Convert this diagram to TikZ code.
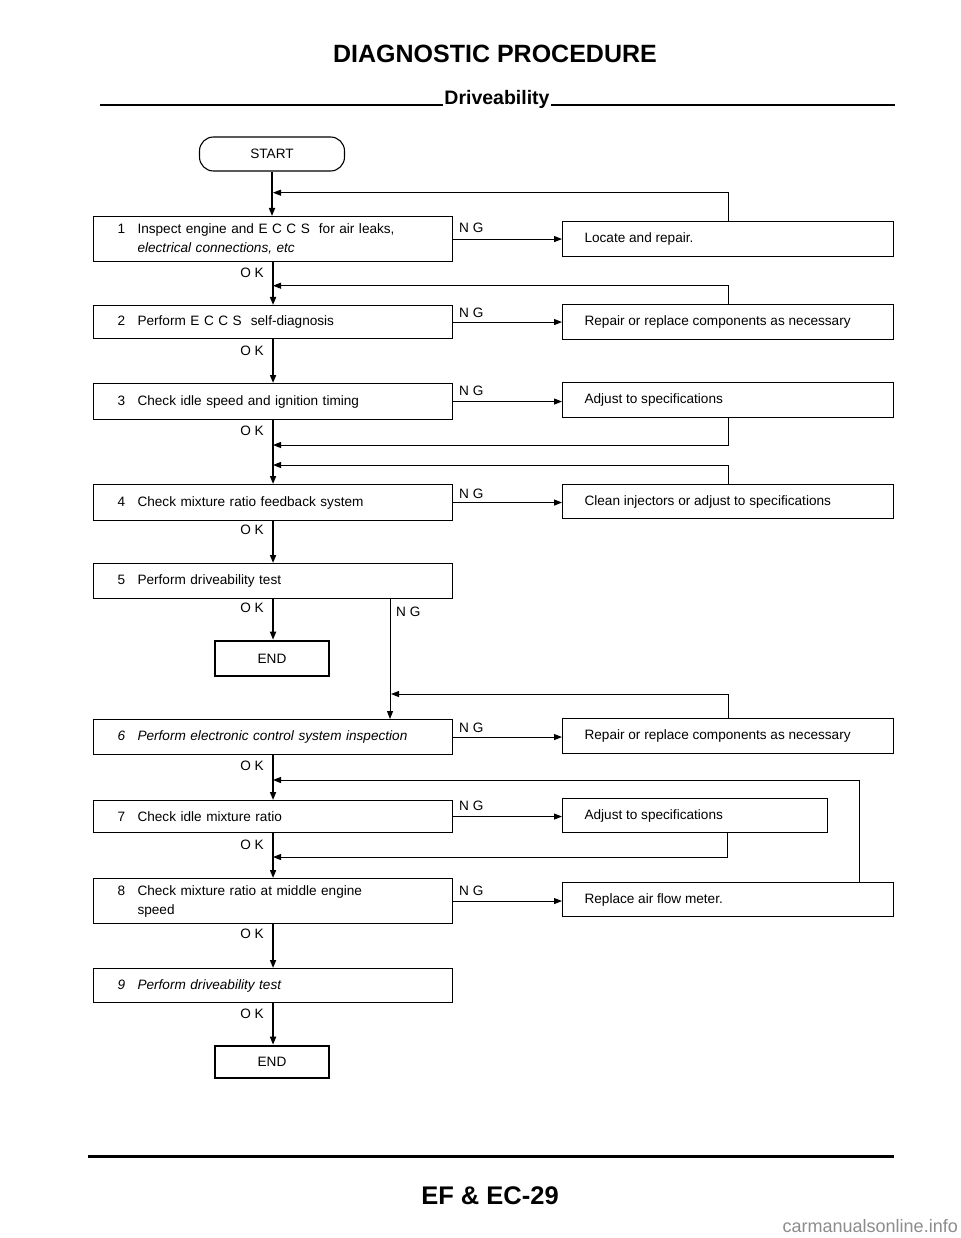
\documentclass[tikz,border=0pt]{standalone}
\usepackage{fontspec}
\setmainfont{Liberation Sans}
\usetikzlibrary{arrows.meta}
\newcommand\bxf{\fontsize{13.6}{19}\selectfont}
\tikzset{
  mainbox/.style={draw, line width=1.1pt, anchor=north west, inner xsep=24pt, inner ysep=0pt,
    text width=311pt, minimum height=#1, align=left, font=\bxf},
  rbox/.style={draw, line width=1.1pt, anchor=north west, inner xsep=22pt, inner ysep=0pt,
    minimum height=#1, align=left, font=\bxf},
  endbox/.style={draw, line width=2.6pt, minimum width=114pt, minimum height=#1, inner sep=0pt, font=\bxf},
  lbl/.style={inner sep=0pt, font=\bxf},
  arr/.style={line width=1pt, -{Triangle[length=8pt,width=6pt]}},
  mainarr/.style={line width=1.6pt, -{Triangle[length=8pt,width=6pt]}},
}
\newcommand\num[1]{\makebox[20pt][l]{#1}}
\begin{document}
\begin{tikzpicture}[x=1pt,y=-1pt]
\useasboundingbox[fill=white] (0,0) rectangle (960,1238);

% header
\node[font=\bfseries\fontsize{25}{30}\selectfont, anchor=base] (title) at (495,63) {DIAGNOSTIC PROCEDURE};
\node[font=\bfseries\fontsize{19.5}{24}\selectfont, anchor=base, inner sep=1pt] (drv) at (497,105) {Driveability};
\draw[line width=1.8pt] (100,105) -- (drv.base west);
\draw[line width=1.8pt] (drv.base east) -- (895,105);

% start
\node[draw, line width=1.1pt, rounded corners=14pt, minimum width=145pt, minimum height=34pt, inner sep=0pt, font=\bxf] (start) at (272,154) {START};

% main boxes
\node[mainbox=45pt] (b1) at (93,216) {\num{1}Inspect engine and E C C S\ \ for air leaks,\\\hspace*{20pt}\textit{electrical connections, etc}};
\node[mainbox=33pt] (b2) at (93,305) {\num{2}Perform E C C S\ \ self-diagnosis};
\node[mainbox=36pt] (b3) at (93,383) {\num{3}Check idle speed and ignition timing};
\node[mainbox=36pt] (b4) at (93,484) {\num{4}Check mixture ratio feedback system};
\node[mainbox=35pt] (b5) at (93,563) {\num{5}Perform driveability test};
\node[mainbox=35pt] (b6) at (93,719) {\itshape\num{6}Perform electronic control system inspection};
\node[mainbox=32pt] (b7) at (93,800) {\num{7}Check idle mixture ratio};
\node[mainbox=45pt] (b8) at (93,878) {\num{8}Check mixture ratio at middle engine\\\hspace*{20pt}speed};
\node[mainbox=34pt] (b9) at (93,968) {\itshape\num{9}Perform driveability test};

% end boxes
\node[endbox=35pt] (e1) at (272,658.5) {END};
\node[endbox=32pt] (e2) at (272,1062) {END};

% right boxes
\node[rbox=35pt] (r1) at (562,221) {\makebox[287pt][l]{Locate and repair.}};
\node[rbox=35pt] (r2) at (562,304) {\makebox[287pt][l]{Repair or replace components as necessary}};
\node[rbox=35pt] (r3) at (562,382) {\makebox[287pt][l]{Adjust to specifications}};
\node[rbox=34pt] (r4) at (562,484) {\makebox[287pt][l]{Clean injectors or adjust to specifications}};
\node[rbox=35pt] (r6) at (562,718) {\makebox[287pt][l]{Repair or replace components as necessary}};
\node[rbox=34pt] (r7) at (562,798) {\makebox[221pt][l]{Adjust to specifications}};
\node[rbox=34pt] (r8) at (562,882) {\makebox[287pt][l]{Replace air flow meter.}};

% main flow
\draw[mainarr] (start.south) -- (start.south |- b1.north);
\draw[mainarr] (b1.south) -- (b1.south |- b2.north);
\draw[mainarr] (b2.south) -- (b2.south |- b3.north);
\draw[mainarr] (b3.south) -- (b3.south |- b4.north);
\draw[mainarr] (b4.south) -- (b4.south |- b5.north);
\draw[mainarr] (b5.south) -- (b5.south |- e1.north);
\draw[mainarr] (b6.south) -- (b6.south |- b7.north);
\draw[mainarr] (b7.south) -- (b7.south |- b8.north);
\draw[mainarr] (b8.south) -- (b8.south |- b9.north);
\draw[mainarr] (b9.south) -- (b9.south |- e2.north);

\coordinate (n5) at (390,0);
\draw[arr] (b5.south -| n5) -- (b6.north -| n5);

% NG arrows
\draw[arr] (b1.east) -- (b1.east -| r1.west);
\draw[arr] (b2.east) -- (b2.east -| r2.west);
\draw[arr] (b3.east) -- (b3.east -| r3.west);
\draw[arr] (b4.east) -- (b4.east -| r4.west);
\draw[arr] (b6.east) -- (b6.east -| r6.west);
\draw[arr] (b7.east) -- (b7.east -| r7.west);
\draw[arr] (b8.east) -- (b8.east -| r8.west);

% feedback
\coordinate (f1) at (273,192.7);
\coordinate (f2) at (273,285.7);
\coordinate (f3) at (273,445);
\coordinate (f4) at (273,465);
\coordinate (f6) at (391,694);
\coordinate (f7) at (273,780);
\coordinate (f8) at (273,857);
\coordinate (c7) at (727,0);
\coordinate (c8) at (859,0);
\draw[arr] (r1.north) |- (f1);
\draw[arr] (r2.north) |- (f2);
\draw[arr] (r3.south) |- (f3);
\draw[arr] (r4.north) |- (f4);
\draw[arr] (r6.north) |- (f6);
\draw[arr] (r8.north -| c8) |- (f7);
\draw[arr] (r7.south -| c7) |- (f8);

% labels
\node[lbl, anchor=base east] (ok1) at (264,278) {O K};
\node[lbl, anchor=base east] (ok2) at (264,355) {O K};
\node[lbl, anchor=base east] (ok3) at (264,435) {O K};
\node[lbl, anchor=base east] (ok4) at (264,534) {O K};
\node[lbl, anchor=base east] (ok5) at (264,612) {O K};
\node[lbl, anchor=base east] (ok6) at (264,770) {O K};
\node[lbl, anchor=base east] (ok7) at (264,849) {O K};
\node[lbl, anchor=base east] (ok8) at (264,938) {O K};
\node[lbl, anchor=base east] (ok9) at (264,1018) {O K};

\node[lbl, anchor=base west] (ng1) at (459,233) {N G};
\node[lbl, anchor=base west] (ng2) at (459,317.5) {N G};
\node[lbl, anchor=base west] (ng3) at (459,395.5) {N G};
\node[lbl, anchor=base west] (ng4) at (459,498) {N G};
\node[lbl, anchor=base west] (ng5) at (396,616) {N G};
\node[lbl, anchor=base west] (ng6) at (459,732.5) {N G};
\node[lbl, anchor=base west] (ng7) at (459,810.5) {N G};
\node[lbl, anchor=base west] (ng8) at (459,895) {N G};

% footer
\draw[line width=3pt] (88,1156) -- (894,1156);
\node[font=\bfseries\fontsize{25.5}{30}\selectfont, anchor=base] (page) at (490,1204) {EF \& EC-29};
\node[font=\fontsize{18}{20}\selectfont, text=black!45, anchor=base east, inner sep=0pt] (wm) at (958,1232) {carmanualsonline.info};
\end{tikzpicture}
\end{document}
